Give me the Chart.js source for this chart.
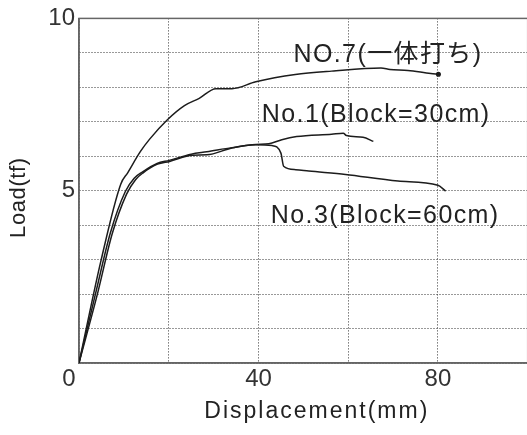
<!DOCTYPE html>
<html>
<head>
<meta charset="utf-8">
<script src="https://cdn.jsdelivr.net/npm/chart.js@4"></script>
<style>
  html, body { margin: 0; padding: 0; background: #fff; overflow: hidden; }
  canvas { display: block; }
</style>
</head>
<body>
<canvas id="loadChart" width="531" height="435"></canvas>
<script>
// displacement (mm) and load (tf)
const no7Disp = [0, 4.9, 9.3, 10.85, 13.7, 15.7, 19.7, 23.5, 26.8, 30.5, 34.1, 39.4, 48.2, 56.3, 67.3, 69.3, 73.3, 78.4, 80.1];
const no7Load = [0, 2.97, 5.19, 5.52, 6.14, 6.49, 7.06, 7.47, 7.68, 7.96, 7.96, 8.16, 8.37, 8.47, 8.56, 8.52, 8.49, 8.40, 8.38];

const no1Disp = [0, 3.7, 7.0, 10.3, 12.3, 14.1, 17.4, 20.1, 25.0, 28.5, 34.1, 39.4, 42.3, 45.2, 48.5, 56.3, 58.9, 59.6, 63.3, 65.6];
const no1Load = [0, 2.02, 3.78, 4.97, 5.36, 5.54, 5.79, 5.88, 6.06, 6.13, 6.25, 6.34, 6.36, 6.48, 6.57, 6.64, 6.67, 6.60, 6.55, 6.43];

const no3Disp = [0, 4.1, 7.4, 10.6, 12.6, 14.3, 17.5, 20.2, 25.3, 28.5, 34.1, 39.4, 43.0, 45.0, 45.6, 48.3, 51.2, 59.4, 71.1, 80.0, 81.7];
const no3Load = [0, 2.0, 3.75, 4.9, 5.32, 5.52, 5.77, 5.85, 6.03, 6.04, 6.24, 6.33, 6.31, 6.09, 5.71, 5.61, 5.57, 5.47, 5.28, 5.16, 4.99];

const seriesNames = ['NO.7(一体打ち)', 'No.1(Block=30cm)', 'No.3(Block=60cm)'];
const xTickLabels = [0, 40, 80];
const yTickLabels = [5, 10];

const xTitle = 'Displacement(mm)';
const yTitle = 'Load(tf)';

// where each curve name sits, in data units (left edge, baseline)
const nameAnchors = [[47.8, 8.73], [40.75, 6.98], [42.75, 4.07]];

const inkColor = '#1c1c1c';
const frameColor = '#666';

function toPoints(xs, ys) {
    return xs.map((x, i) => ({ x: x, y: ys[i] }));
}

function makeSet(label, xs, ys, endDot) {
    return {
        label: label,
        data: toPoints(xs, ys),
        borderColor: inkColor,
        backgroundColor: inkColor,
        borderWidth: 1.5,
        fill: false,
        cubicInterpolationMode: 'monotone',
        pointRadius: ctx => (endDot && ctx.dataIndex === xs.length - 1) ? 1.8 : 0,
        pointHoverRadius: 0
    };
}

// frame round the plot plus the hand-placed texts of the scan
const paperText = {
    id: 'paperText',
    beforeDatasetsDraw(chart) {
        const { ctx, chartArea } = chart;
        ctx.save();
        ctx.strokeStyle = frameColor;
        ctx.lineWidth = 1.5;
        ctx.strokeRect(chartArea.left, chartArea.top, chartArea.right - chartArea.left, chartArea.bottom - chartArea.top);
        ctx.restore();
    },
    afterDraw(chart) {
        const { ctx, chartArea, scales } = chart;
        ctx.save();
        ctx.fillStyle = '#222';
        ctx.textBaseline = 'alphabetic';
        ctx.textAlign = 'left';

        ctx.font = '25px "Liberation Sans", "Noto Sans CJK JP", sans-serif';
        ctx.letterSpacing = '1.4px';
        seriesNames.forEach((name, i) => {
            const px = scales.x.getPixelForValue(nameAnchors[i][0]);
            const py = scales.y.getPixelForValue(nameAnchors[i][1]);
            ctx.fillText(name, px, py);
        });

        // x axis title
        ctx.font = '23px "Liberation Sans", sans-serif';
        ctx.letterSpacing = '2px';
        ctx.textAlign = 'center';
        ctx.fillText(xTitle, scales.x.getPixelForValue(53), chartArea.bottom + 55);

        // y axis title
        ctx.font = '22px "Liberation Sans", sans-serif';
        ctx.letterSpacing = '0.6px';
        ctx.translate(25, scales.y.getPixelForValue(4.8));
        ctx.rotate(-Math.PI / 2);
        ctx.fillText(yTitle, 0, 0);
        ctx.restore();
    }
};

const tickFont = { family: '"Liberation Sans", sans-serif', size: 24 };

new Chart(document.getElementById('loadChart'), {
    type: 'line',
    data: {
        datasets: [
            makeSet(seriesNames[0], no7Disp, no7Load, true),
            makeSet(seriesNames[1], no1Disp, no1Load, false),
            makeSet(seriesNames[2], no3Disp, no3Load, false)
        ]
    },
    options: {
        responsive: false,
        animation: false,
        events: [],
        layout: { padding: { left: 0, top: 16, right: 0, bottom: 0 } },
        plugins: {
            legend: { display: false },
            tooltip: { enabled: false }
        },
        scales: {
            x: {
                type: 'linear',
                min: 0,
                max: 100,
                afterFit: scale => { scale.height = 72; },
                grid: { color: '#333', lineWidth: 1, drawTicks: false },
                border: { display: true, color: frameColor, width: 1.5, dash: [1, 2] },
                ticks: {
                    stepSize: 20,
                    autoSkip: false,
                    maxRotation: 0,
                    padding: 2,
                    color: '#333',
                    font: tickFont,
                    // the lone 0 sits left of the corner in the scan
                    callback: v => v === 0 ? '0   ' : (xTickLabels.includes(v) ? String(v) : '')
                }
            },
            y: {
                min: 0,
                max: 10,
                afterFit: scale => { scale.width = 79; },
                grid: { color: '#333', lineWidth: 1, drawTicks: false },
                border: { display: true, color: frameColor, width: 1.5, dash: [1, 2] },
                ticks: {
                    stepSize: 1,
                    autoSkip: false,
                    padding: 4,
                    color: '#333',
                    font: tickFont,
                    callback: v => yTickLabels.includes(v) ? String(v) : ''
                }
            }
        }
    },
    plugins: [paperText]
});
</script>
</body>
</html>
